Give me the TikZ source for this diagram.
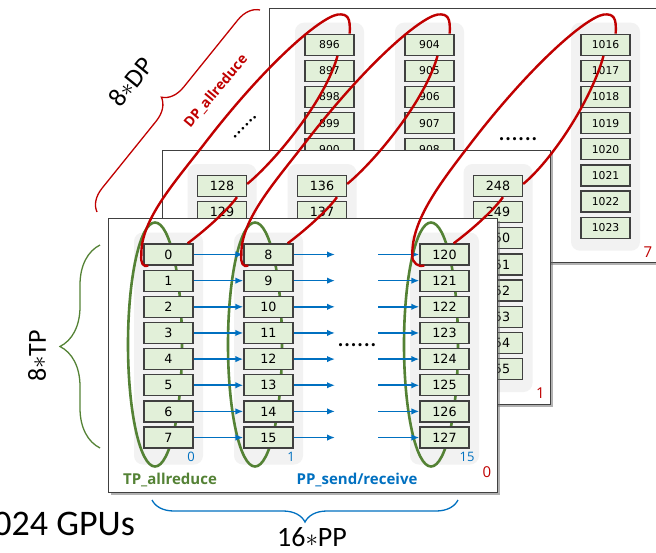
\documentclass[tikz,border=0pt]{standalone}
\usepackage{fontspec}
\setmainfont{DejaVu Sans}
\newfontfamily\labelfont{Carlito}
\newfontfamily\namefont{Open Sans}
\usetikzlibrary{shadows,decorations.pathreplacing,arrows.meta,calc}
\definecolor{gpufill}{HTML}{E2F0D9}
\definecolor{gpuline}{HTML}{404040}
\definecolor{colbg}{HTML}{F2F2F2}
\definecolor{tpgreen}{HTML}{548235}
\definecolor{dpred}{HTML}{C00000}
\definecolor{ppblue}{HTML}{0070C0}
\tikzset{
  gpu/.style={draw=gpuline,fill=gpufill,line width=1.3pt,minimum width=49pt,minimum height=21pt,inner sep=0pt},
  plane/.style={draw=gpuline,fill=white,line width=1pt,drop shadow={shadow xshift=2.5pt,shadow yshift=-2.5pt,fill=black!60,opacity=0.5}},
  colbox/.style={fill=colbg,rounded corners=9pt},
  dploop/.style={draw=dpred,line width=2.4pt},
  tploop/.style={draw=tpgreen,line width=2.6pt},
  pparrow/.style={draw=ppblue,line width=1.6pt,-{Latex[length=8pt,width=6.5pt]}},
  bigbrace/.style={decorate,decoration={brace,amplitude=#1},line width=1.3pt},
  biglabel/.style={font=\labelfont\fontsize{#1}{#1}\selectfont},
  namelabel/.style={font=\namefont\bfseries\fontsize{#1}{#1}\selectfont},
}
\begin{document}
\begin{tikzpicture}[x=1pt,y=-1pt]
\useasboundingbox (0,0) rectangle (656,552);

\foreach \pl/\ox/\oy/\bm/\fs/\gb/\ly in {7/329.5/44.7/35/10.8/206/207, 1/222/186/35/12.7/206/207, 0/168.5/254.5/55/12.7/210/218}
{
	\draw[plane] (\ox-60,\oy-36) rectangle (\ox+328.5,\oy+183+\bm);
	\foreach \c/\cx in {0/0,1/100,15/276}
	{
		\fill[colbox] (\ox+\cx-34.5,\oy-22) rectangle (\ox+\cx+34.5,\oy+\gb);
		\ifnum\pl=0
			\draw[tploop] (\ox+\cx-13.5,\oy+90) ellipse [x radius=27,y radius=122];
			\node[text=ppblue,font=\namefont\fontsize{13}{13}\selectfont] (col\c) at (\ox+\cx+22.5,\oy+202) {\c};
		\fi
		\foreach \r in {0,...,7}
		{
			\pgfmathtruncatemacro{\n}{\pl*128+\c*8+\r}
			\node[gpu,font=\fontsize{\fs}{\fs}\selectfont] (g\n) at (\ox+\cx,\oy+26.15*\r) {\n};
		}
	}
	\node[text=dpred,font=\namefont\fontsize{15}{15}\selectfont] (pl\pl) at (\ox+318.5,\oy+\ly) {\pl};
}

\foreach \r in {0,...,7}
{
	\pgfmathtruncatemacro{\a}{\r}
	\pgfmathtruncatemacro{\b}{8+\r}
	\pgfmathtruncatemacro{\z}{120+\r}
	\coordinate (ps\r) at (335,254.5+26.15*\r);
	\coordinate (pe\r) at (378,254.5+26.15*\r);
	\draw[pparrow] (g\a) -- (g\b);
	\draw[pparrow] (g\b) -- (ps\r);
	\draw[pparrow] (pe\r) -- (g\z);
}

\foreach \f/\m/\b/\s in {0/128/896/0, 8/136/904/0, 120/248/1016/-10}
{
	\draw[dploop] ($(g\f.north east)+(-6+\s,0)$) .. controls +(16,-12) and +(-11,15) .. ($(g\m.south)+(15+\s,0)$);
	\draw[dploop] ($(g\m.east)+(0,-2)$) .. controls +(29,-24) and +(-12,44) .. ($(g\b.south)+(8+\s,0)$);
	\draw[dploop] ($(g\b.north east)+(-5+\s,0)$) .. controls +(1,-16) and +(10,-1) .. ($(g\b.north east)+(-17+\s,-19)$)
		.. controls +(-18,3) and +(60,-78) .. ($(g\f.center)+(36.5+\s,-111.5)$)
		.. controls +(-30,39) and +(-1,-35) .. ($(g\f.west)+(-2+\s/2,0.5)$)
		.. controls +(-1,8) and +(-5,2) .. ($(g\f.south west)+(5,0)$);
}

\node[biglabel=26] (dotsfront) at (357,345) {......};
\node[biglabel=26] (dotsback) at (518,139) {......};
\node[biglabel=22,rotate=45,inner sep=0pt] (dotsmid) at (245,127) {......};

\draw[bigbrace=22,dpred] (97,212) -- (260,10);
\draw[bigbrace=40,tpgreen] (100,448) -- (100,245);
\draw[bigbrace=22,ppblue] (458,500) -- (152,500);

\node[biglabel=26,rotate=51] (dpcount) at (131,82) {8$\ast$DP};
\node[biglabel=26,rotate=90] (tpcount) at (37,356) {8$\ast$TP};
\node[biglabel=28,anchor=base,inner sep=0pt] (ppcount) at (312,546) {16$\ast$PP};
\node[biglabel=36,anchor=base east,inner sep=0pt] (gpus) at (135,535) {1024 GPUs};

\node[namelabel=14,text=dpred,rotate=50,inner sep=1pt] (dpname) at (216,91) {DP\_allreduce};
\node[namelabel=15,text=tpgreen,anchor=base] (tpname) at (170,484) {TP\_allreduce};
\node[namelabel=15,text=ppblue,anchor=base] (ppname) at (357,484) {PP\_send/receive};

\end{tikzpicture}
\end{document}
